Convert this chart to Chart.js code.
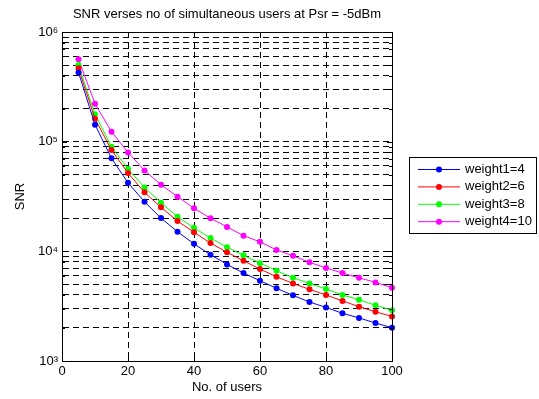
<!DOCTYPE html>
<html>
<head>
<meta charset="utf-8">
<script src="https://cdn.jsdelivr.net/npm/chart.js@4/dist/chart.umd.min.js"></script>
<style>
  body { margin: 0; background: #fff; }
  canvas { display: block; }
</style>
</head>
<body>
<canvas id="canvas" width="539" height="399"></canvas>
<script>
const title = "SNR verses no of simultaneous users at Psr = -5dBm";

// number of simultaneous users
const users = [5, 10, 15, 20, 25, 30, 35, 40, 45, 50, 55, 60, 65, 70, 75, 80, 85, 90, 95, 100];

// SNR for each weight
const weight1 = [428000, 143000, 70500, 42200, 28300, 20100, 15100, 11700, 9310, 7600,
                 6340, 5400, 4600, 3970, 3450, 3080, 2720, 2470, 2220, 2010];
const weight2 = [466000, 162000, 83800, 51700, 34500, 25200, 18900, 14900, 11900, 9800,
                 8200, 6900, 5860, 5100, 4500, 4000, 3530, 3130, 2810, 2550];
const weight3 = [499000, 178000, 89800, 56200, 38300, 27700, 20700, 16400, 13200, 10900,
                 9200, 7800, 6660, 5740, 5100, 4530, 4000, 3620, 3220, 2900];
const weight4 = [563000, 222000, 123000, 79800, 54700, 40500, 31500, 24700, 20000, 16700,
                 13900, 12200, 10300, 9100, 7940, 7050, 6340, 5740, 5210, 4660];

const seriesNames = ["weight1=4", "weight2=6", "weight3=8", "weight4=10"];
const seriesColors = ["#0000ff", "#ff0000", "#00ff00", "#ff00ff"];

// y axis ticks
const yDecades = [1e3, 1e4, 1e5];
const yMultipliers = [1, 2, 3, 4, 5, 6, 7, 8, 9];
const yTop = 1e6;
const yMajorTicks = [1e3, 1e4, 1e5, 1e6];
const yMajorLabels = ["10³", "10⁴", "10⁵", "10⁶"];
const xTicks = [0, 20, 40, 60, 80, 100];

const yTickValues = [];
yDecades.forEach((d) => yMultipliers.forEach((m) => yTickValues.push(d * m)));
yTickValues.push(yTop);

const FONT = "'Liberation Sans', Arial, sans-serif";

const datasets = [weight1, weight2, weight3, weight4].map((arr, i) => ({
    label: seriesNames[i],
    data: arr.map((y, k) => ({ x: users[k], y })),
    borderColor: seriesColors[i],
    backgroundColor: seriesColors[i],
    pointBackgroundColor: seriesColors[i],
    pointBorderColor: seriesColors[i],
    borderWidth: 1,
    pointRadius: 3,
    pointBorderWidth: 0,
    tension: 0,
    clip: false
}));

// MATLAB style box, inward ticks and legend
const matlabBox = {
    id: "matlabBox",
    afterDraw(chart) {
        const ctx = chart.ctx;
        const a = chart.chartArea;
        const xs = chart.scales.x;
        const ys = chart.scales.y;
        ctx.save();
        ctx.strokeStyle = "#000";
        ctx.lineWidth = 1;
        ctx.setLineDash([]);
        ctx.beginPath();
        yTickValues.forEach((v) => {
            const y = Math.round(ys.getPixelForValue(v)) + 0.5;
            const len = yMajorTicks.includes(v) ? 5 : 3;
            ctx.moveTo(a.left, y); ctx.lineTo(a.left + len, y);
            ctx.moveTo(a.right, y); ctx.lineTo(a.right - len, y);
        });
        xTicks.forEach((v) => {
            const x = Math.round(xs.getPixelForValue(v)) + 0.5;
            ctx.moveTo(x, a.bottom); ctx.lineTo(x, a.bottom - 5);
            ctx.moveTo(x, a.top); ctx.lineTo(x, a.top + 5);
        });
        ctx.stroke();
        ctx.strokeRect(Math.round(a.left) + 0.5, Math.round(a.top) + 0.5,
            Math.round(a.right - a.left), Math.round(a.bottom - a.top));

        // legend
        const bx = 409.5, by = 157.5, bw = 127, bh = 76;
        ctx.fillStyle = "#fff";
        ctx.fillRect(bx, by, bw, bh);
        ctx.strokeRect(bx, by, bw, bh);
        ctx.font = "13px " + FONT;
        ctx.textBaseline = "middle";
        chart.data.datasets.forEach((ds, i) => {
            const y = 169.5 + i * 17.4;
            ctx.strokeStyle = ds.borderColor;
            ctx.beginPath();
            ctx.moveTo(418, y); ctx.lineTo(460, y);
            ctx.stroke();
            ctx.fillStyle = ds.borderColor;
            ctx.beginPath();
            ctx.arc(439, y, 3, 0, Math.PI * 2);
            ctx.fill();
            ctx.fillStyle = "#000";
            ctx.fillText(ds.label, 465, y);
        });
        ctx.restore();
    }
};

const config = {
    type: "line",
    data: { datasets },
    options: {
        responsive: false,
        animation: false,
        devicePixelRatio: 1,
        layout: { padding: { top: 0, left: 0, right: 147, bottom: 0 } },
        plugins: {
            legend: { display: false },
            tooltip: { enabled: false },
            title: {
                display: true,
                text: title,
                fullSize: false,
                color: "#000",
                font: { family: FONT, size: 13, weight: "normal" },
                padding: { top: 7, bottom: 9.4 }
            }
        },
        scales: {
            x: {
                type: "linear",
                min: 0,
                max: 100,
                afterFit: (s) => { s.height = 38; },
                afterBuildTicks: (s) => { s.ticks = xTicks.map((v) => ({ value: v })); },
                ticks: {
                    color: "#000",
                    font: { family: FONT, size: 13 },
                    padding: 3,
                    maxRotation: 0,
                    autoSkip: false
                },
                grid: { color: "#000", lineWidth: 1, drawTicks: false },
                border: { display: true, color: "#000", width: 1, dash: [6, 4] },
                title: {
                    display: true,
                    text: "No. of users",
                    color: "#000",
                    font: { family: FONT, size: 13 },
                    padding: { top: 0, bottom: 4 }
                }
            },
            y: {
                type: "logarithmic",
                min: 1e3,
                max: 1e6,
                afterFit: (s) => { s.width = 62; },
                afterBuildTicks: (s) => { s.ticks = yTickValues.map((v) => ({ value: v })); },
                ticks: {
                    color: "#000",
                    font: { family: FONT, size: 13 },
                    padding: 4,
                    autoSkip: false,
                    callback: (value) => {
                        const k = yMajorTicks.indexOf(value);
                        return k >= 0 ? yMajorLabels[k] : "";
                    }
                },
                grid: { color: "#000", lineWidth: 1, drawTicks: false },
                border: { display: true, color: "#000", width: 1, dash: [6, 4] },
                title: {
                    display: true,
                    text: "SNR",
                    color: "#000",
                    font: { family: FONT, size: 13 },
                    padding: { top: 13, bottom: 0 }
                }
            }
        }
    },
    plugins: [matlabBox]
};

const myChart = new Chart(document.getElementById("canvas"), config);
</script>
</body>
</html>
